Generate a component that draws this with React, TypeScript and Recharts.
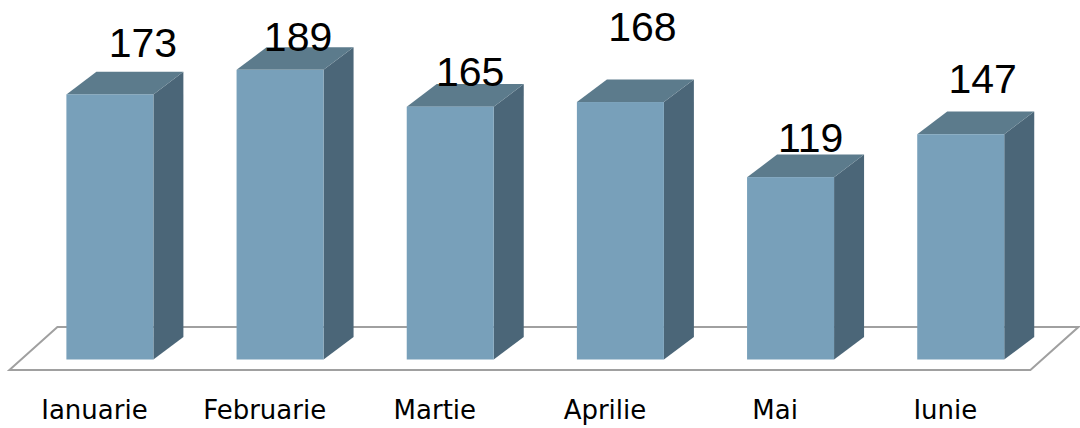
import { BarChart, Bar, XAxis, YAxis, LabelList, usePlotArea } from 'recharts'

const months = ['Ianuarie', 'Februarie', 'Martie', 'Aprilie', 'Mai', 'Iunie']
const totals = [173, 189, 165, 168, 119, 147]

// the value labels sit a bit irregularly above each box: [shift right, lift above front top]
const labelOffsets = [
  [33, 37],
  [18, 19],
  [20, 21],
  [22, 61],
  [20, 25],
  [22, 41],
]

const chartData = months.map((month, i) => ({ month, total: totals[i] }))

const DEPTH_X = 30
const DEPTH_Y = 22.6
const FRONT = '#78a0ba'
const TOP = '#5c7b8c'
const SIDE = '#4b6678'

function Box3D(props: any) {
  const { x, y, width, height } = props
  if (height == null || height <= 0) return null
  const r = x + width
  const b = y + height
  return (
    <g>
      <polygon
        points={`${r},${y} ${r + DEPTH_X},${y - DEPTH_Y} ${r + DEPTH_X},${b - DEPTH_Y} ${r},${b}`}
        fill={SIDE}
      />
      <polygon
        points={`${x},${y} ${x + DEPTH_X},${y - DEPTH_Y} ${r + DEPTH_X},${y - DEPTH_Y} ${r},${y}`}
        fill={TOP}
      />
      <rect x={x} y={y} width={width} height={height} fill={FRONT} />
    </g>
  )
}

function Floor() {
  const area = usePlotArea()
  if (!area) return null
  const left = area.x
  const right = area.x + area.width
  const bottom = area.y + area.height
  const fy = bottom + 10.5
  const by = bottom - 32.5
  const pts = `${left - 15},${fy} ${right - 15},${fy} ${right + 33},${by} ${left + 33},${by}`
  return <polygon points={pts} fill="#ffffff" stroke="#a0a0a0" strokeWidth={2} />
}

function ValueLabel(props: any) {
  const { x, y, width, value, index } = props
  const [dx, lift] = labelOffsets[index] ?? [20, 22]
  return (
    <text
      x={x + width / 2 + dx}
      y={y - lift}
      textAnchor="middle"
      fontFamily="'Liberation Sans', Arial, sans-serif"
      fontSize={41}
      fill="#000"
    >
      {value}
    </text>
  )
}

function MonthTick(props: any) {
  const { x, payload } = props
  return (
    <text
      x={x - 15}
      y={419}
      textAnchor="middle"
      fontFamily="'DejaVu Sans', sans-serif"
      fontSize={26}
      fill="#000"
    >
      {payload.value}
    </text>
  )
}

export default function App() {
  return (
    <div style={{ position: 'absolute', left: 0, top: 0, background: '#fff' }}>
      <BarChart
        width={1080}
        height={428}
        data={chartData}
        margin={{ top: 53, right: 34.6, bottom: 38.5, left: 24.4 }}
        barSize={87}
      >
        <Floor />
        <XAxis
          dataKey="month"
          height={30}
          axisLine={false}
          tickLine={false}
          interval={0}
          tick={<MonthTick />}
        />
        <YAxis hide domain={[0, 200]} />
        <Bar dataKey="total" shape={<Box3D />} isAnimationActive={false}>
          <LabelList dataKey="total" content={<ValueLabel />} />
        </Bar>
      </BarChart>
    </div>
  )
}
